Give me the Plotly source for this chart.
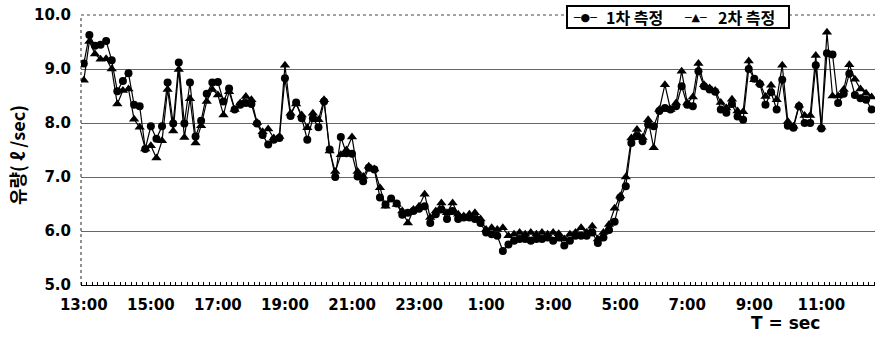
import plotly.graph_objects as go

# Flow readings every 10 minutes, starting 13:00 (l/sec)
flow_1 = [
    9.10, 9.63, 9.43, 9.45, 9.52, 9.16, 8.59, 8.78, 8.92, 8.34,
    8.31, 7.52, 7.94, 7.71, 7.94, 8.75, 7.99, 9.12, 7.99, 8.75,
    7.75, 8.04, 8.54, 8.75, 8.76, 8.40, 8.64, 8.25, 8.34, 8.37,
    8.35, 7.99, 7.78, 7.60, 7.69, 7.72, 8.83, 8.13, 8.38, 8.09,
    7.69, 8.09, 7.92, 8.40, 7.51, 7.00, 7.74, 7.44, 7.43, 7.01,
    6.92, 7.17, 7.14, 6.62, 6.49, 6.60, 6.51, 6.30, 6.34, 6.37,
    6.41, 6.46, 6.15, 6.31, 6.40, 6.22, 6.37, 6.22, 6.25, 6.25,
    6.22, 6.15, 5.97, 5.94, 5.91, 5.63, 5.75, 5.82, 5.85, 5.85,
    5.82, 5.85, 5.85, 5.88, 5.82, 5.88, 5.73, 5.82, 5.91, 5.91,
    5.91, 5.97, 5.78, 5.88, 6.02, 6.17, 6.62, 6.83, 7.63, 7.76,
    7.66, 7.97, 7.94, 8.22, 8.28, 8.25, 8.31, 8.68, 8.34, 8.31,
    8.96, 8.68, 8.62, 8.58, 8.25, 8.19, 8.35, 8.12, 8.06, 9.00,
    8.82, 8.72, 8.34, 8.57, 8.25, 8.80, 7.95, 7.91, 8.31, 8.00,
    8.00, 9.07, 7.90, 9.29, 9.27, 8.37, 8.54, 8.91, 8.52, 8.46,
    8.43, 8.25,
]

flow_2 = [
    8.79, 9.51, 9.28, 9.18, 9.19, 9.00, 8.35, 8.60, 8.63, 8.07,
    7.92, 7.52, 7.58, 7.35, 7.67, 8.62, 7.85, 8.99, 7.73, 8.45,
    7.63, 7.95, 8.40, 8.62, 8.52, 8.15, 8.58, 8.25, 8.37, 8.49,
    8.43, 8.01, 7.84, 7.89, 7.72, 7.75, 9.07, 8.18, 8.35, 8.15,
    7.91, 8.18, 8.06, 8.43, 7.48, 7.10, 7.41, 7.50, 7.74, 7.10,
    7.01, 7.20, 7.15, 6.80, 6.46, 6.58, 6.49, 6.37, 6.15, 6.40,
    6.46, 6.68, 6.25, 6.37, 6.52, 6.34, 6.52, 6.31, 6.28, 6.31,
    6.34, 6.22, 6.03, 6.06, 6.03, 6.06, 5.91, 5.94, 5.97, 5.94,
    5.97, 5.94, 5.97, 5.94, 5.97, 5.95, 5.85, 5.94, 5.97, 6.06,
    5.97, 6.09, 5.85, 5.97, 6.12, 6.42, 6.65, 7.00, 7.72, 7.88,
    7.73, 8.06, 7.54, 8.25, 8.71, 8.25, 8.37, 8.96, 8.37, 8.48,
    9.10, 8.71, 8.65, 8.60, 8.38, 8.28, 8.44, 8.22, 8.21, 9.15,
    8.80, 8.74, 8.49, 8.70, 8.43, 9.07, 8.03, 7.94, 8.33, 8.14,
    8.14, 9.25, 7.92, 9.68, 8.50, 8.50, 8.62, 9.08, 8.81, 8.63,
    8.55, 8.48,
]

series_names = ["1차 측정", "2차 측정"]

tick_pos = [0, 12, 24, 36, 48, 60, 72, 84, 96, 108, 120, 132]
tick_text = ["13:00", "15:00", "17:00", "19:00", "21:00", "23:00",
             "1:00", "3:00", "5:00", "7:00", "9:00", "11:00"]

steps = list(range(len(flow_1)))
clock = [f"{(13 + k // 6) % 24}:{(k % 6) * 10:02d}" for k in steps]

W, H = 875, 337
M_L, M_R, M_T, M_B = 81, 0, 15, 52
plot_w = W - M_L - M_R
plot_h = H - M_T - M_B


def px_x(px):
    """Horizontal pixel -> paper fraction."""
    return (px - M_L) / plot_w


def px_y(py):
    """Vertical pixel (from top) -> paper fraction."""
    return (H - M_B - py) / plot_h


tick_font = dict(family="DejaVu Sans", size=15, color="black", weight="bold")
key_font = dict(family="Noto Sans CJK KR", size=16, color="black", weight="bold")
glyph_font = dict(family="DejaVu Sans", size=11, color="black")

fig = go.Figure()
fig.add_trace(go.Scatter(
    x=steps, y=flow_1, name=series_names[0], mode="lines+markers",
    text=clock, hovertemplate="%{text}<br>%{y:.2f}<extra>1차 측정</extra>",
    line=dict(color="black", width=1.2),
    marker=dict(symbol="circle", size=8, color="black"),
))
fig.add_trace(go.Scatter(
    x=steps, y=flow_2, name=series_names[1], mode="lines+markers",
    text=clock, hovertemplate="%{text}<br>%{y:.2f}<extra>2차 측정</extra>",
    line=dict(color="black", width=1.2),
    marker=dict(symbol="triangle-up", size=9, color="black"),
))

# Key box drawn over the top border
key_box = dict(type="rect", xref="paper", yref="paper", layer="above",
               x0=px_x(567), x1=px_x(789), y0=px_y(28), y1=px_y(6),
               line=dict(color="black", width=2), fillcolor="white")

key_items = [
    dict(text="─●─", x=px_x(585), xanchor="center", font=glyph_font),
    dict(text=series_names[0], x=px_x(604), xanchor="left", font=key_font),
    dict(text="─▲─", x=px_x(695), xanchor="center", font=glyph_font),
    dict(text=series_names[1], x=px_x(716), xanchor="left", font=key_font),
]
key_annotations = [
    dict(xref="paper", yref="paper", y=px_y(17), yanchor="middle",
         showarrow=False, **item)
    for item in key_items
]

fig.update_layout(
    width=W, height=H,
    margin=dict(l=M_L, r=M_R, t=M_T, b=M_B),
    paper_bgcolor="white", plot_bgcolor="white",
    showlegend=False,
    xaxis=dict(
        range=[-0.5, 141.6],
        tickmode="array", tickvals=tick_pos, ticktext=tick_text,
        ticks="", tickfont=tick_font, ticklabelstandoff=6,
        showgrid=False, zeroline=False,
        showline=True, linecolor="black", linewidth=1,
        minor=dict(tickmode="linear", tick0=-0.5, dtick=1, ticks="inside",
                   ticklen=3, tickcolor="black", tickwidth=1, showgrid=False),
    ),
    yaxis=dict(
        range=[5, 10], tickmode="linear", tick0=5, dtick=1, tickformat=".1f",
        ticks="", tickfont=tick_font, ticklabelstandoff=9,
        showgrid=True, gridcolor="#666666", gridwidth=1,
        zeroline=False, showline=False,
    ),
    shapes=[
        dict(type="line", xref="paper", yref="paper", x0=0, x1=1, y0=1, y1=1,
             line=dict(color="#444444", width=1, dash="dot")),
        dict(type="line", xref="paper", yref="paper", x0=0, x1=0, y0=0, y1=1,
             line=dict(color="#222222", width=1, dash="dot")),
        key_box,
    ],
    annotations=[
        dict(text="유량( ℓ /sec)", textangle=-90, xref="paper", yref="paper",
             x=px_x(17), y=px_y(155), xanchor="center", yanchor="middle",
             showarrow=False,
             font=dict(family="Noto Sans CJK KR", size=18, color="black", weight="bold")),
        dict(text="T = sec", xref="paper", yref="paper",
             x=px_x(822), y=px_y(323), xanchor="right", yanchor="middle",
             showarrow=False,
             font=dict(family="DejaVu Sans", size=17, color="black", weight="bold")),
    ] + key_annotations,
)

fig.write_html("out.html")
